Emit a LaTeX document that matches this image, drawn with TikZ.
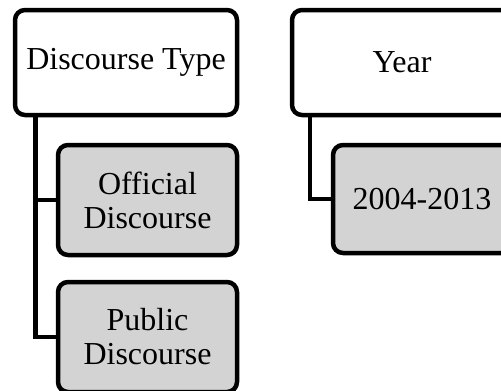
\documentclass[tikz,border=0pt]{standalone}
\usepackage{fontspec}
\setmainfont{Liberation Serif}
\definecolor{boxgray}{RGB}{211,211,211}
\begin{document}
\begin{tikzpicture}[x=1pt,y=-1pt,
  box/.style={draw=black,line width=4.5pt,rounded corners=10pt,rectangle,align=center,
    font=\fontsize{32}{34}\selectfont,inner sep=0pt},
  topbox/.style={box,fill=white,minimum width=222pt,minimum height=105pt},
  subbox/.style={box,fill=boxgray,minimum width=179pt,minimum height=110pt},
  conn/.style={draw=black,line width=4.5pt}]
\useasboundingbox (0,0) rectangle (501,391);
\node[topbox] (dt) at (126,62.5) {Discourse Type};
\node[topbox,minimum width=220pt] (yr) at (402,62.5) {Year};
\node[subbox] (od) at (147.5,200) {Official\\Discourse};
\node[subbox] (pd) at (147.5,337) {Public\\Discourse};
\node[subbox,minimum width=178pt,minimum height=108pt] (yrs) at (422,199) {2004-2013};
\draw[conn] ([xshift=22.5pt]dt.south west) |- (od.west);
\draw[conn] ([xshift=22.5pt]dt.south west) |- (pd.west);
\draw[conn] ([xshift=20pt]yr.south west) |- (yrs.west);
\end{tikzpicture}
\end{document}
